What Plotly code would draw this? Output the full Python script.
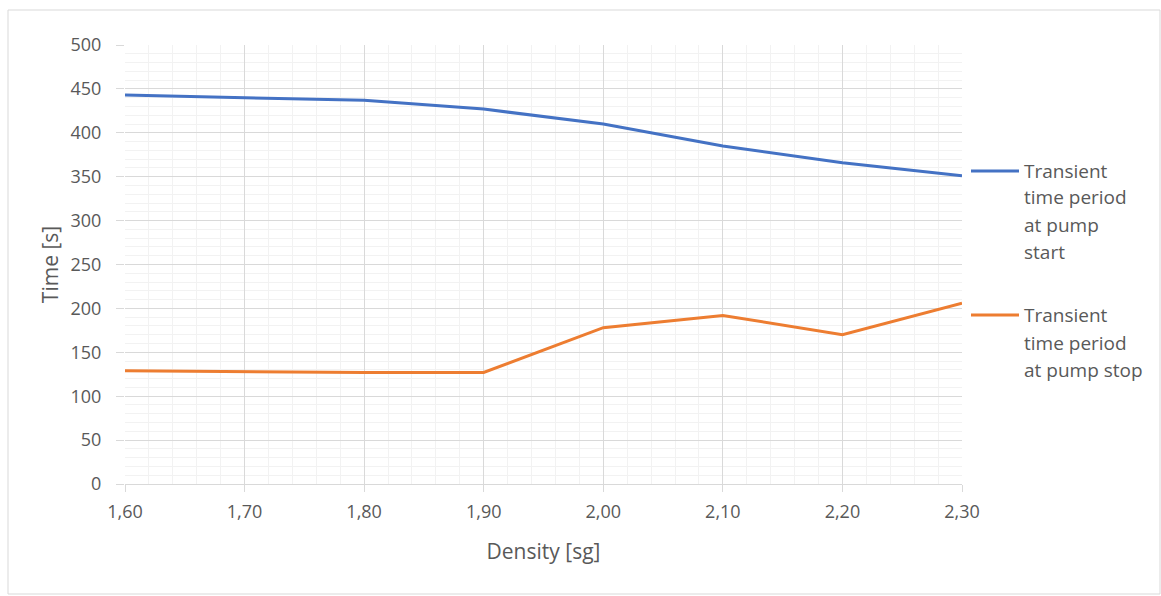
import plotly.graph_objects as go

density = [1.60, 1.80, 1.90, 2.00, 2.10, 2.20, 2.30]
pump_start = [443, 437, 427, 410, 385, 366, 351]
pump_stop = [129, 127, 127, 178, 192, 170, 206]
series_names = ["Transient time period at pump start", "Transient time period at pump stop"]
legend_lines = [["Transient", "time period", "at pump", "start"], ["Transient", "time period", "at pump stop"]]
colors = ["#4472C4", "#ED7D31"]
x_ticks = [1.6, 1.7, 1.8, 1.9, 2.0, 2.1, 2.2, 2.3]
x_tick_labels = ["1,60", "1,70", "1,80", "1,90", "2,00", "2,10", "2,20", "2,30"]
y_ticks = [0, 50, 100, 150, 200, 250, 300, 350, 400, 450, 500]

W, H = 1161, 596
L, R, T, B = 125, 199, 45, 112
pw, ph = W - L - R, H - T - B

def px(xpix):
    return (xpix - L) / pw

def py(ypix):
    return (H - B - ypix) / ph

FONT = "'Open Sans', Calibri, Carlito, sans-serif"
GREY = "#595959"

fig = go.Figure()
for name, ys, c in zip(series_names, [pump_start, pump_stop], colors):
    fig.add_trace(go.Scatter(x=density, y=ys, mode="lines", name=name,
                             line=dict(color=c, width=3), showlegend=False))

fig.update_layout(
    width=W, height=H,
    margin=dict(l=L, r=R, t=T, b=B),
    plot_bgcolor="white", paper_bgcolor="white",
    font=dict(family=FONT, size=18, color=GREY),
    xaxis=dict(range=[1.6, 2.3], tickvals=x_ticks, ticktext=x_tick_labels,
               showgrid=True, gridcolor="#D9D9D9", gridwidth=1,
               minor=dict(dtick=0.02, showgrid=True, gridcolor="#F2F2F2", gridwidth=1),
               ticks="outside", ticklen=7, tickcolor="#D9D9D9",
               ticklabelstandoff=4,
               zeroline=False, showline=True, linecolor="#D9D9D9",
               title=dict(text="Density [sg]", font=dict(size=21, color=GREY), standoff=22),
               tickfont=dict(size=18, color=GREY)),
    yaxis=dict(range=[0, 500], tickvals=y_ticks,
               showgrid=True, gridcolor="#D9D9D9", gridwidth=1,
               minor=dict(dtick=10, showgrid=True, gridcolor="#F2F2F2", gridwidth=1),
               ticks="outside", ticklen=8, tickcolor="#D9D9D9",
               ticklabelstandoff=11,
               zeroline=False, showline=False,
               title=dict(text="Time [s]", font=dict(size=21, color=GREY), standoff=6),
               tickfont=dict(size=18, color=GREY)),
)

# chart border
fig.add_shape(type="rect", xref="paper", yref="paper",
              x0=px(8), x1=px(1160), y0=py(594), y1=py(10),
              line=dict(color="#D9D9D9", width=1), layer="below")

# legend
legend_y = [[171, 197, 225, 252], [315, 343, 370]]
for c, lines, ys in zip(colors, legend_lines, legend_y):
    fig.add_shape(type="line", xref="paper", yref="paper",
                  x0=px(971), x1=px(1019), y0=py(ys[0]), y1=py(ys[0]),
                  line=dict(color=c, width=3))
    for t, yy in zip(lines, ys):
        fig.add_annotation(text=t, xref="paper", yref="paper", x=px(1022), y=py(yy),
                           xanchor="left", yanchor="middle", showarrow=False,
                           font=dict(size=19, color=GREY, family=FONT))

fig.write_html("out.html")
